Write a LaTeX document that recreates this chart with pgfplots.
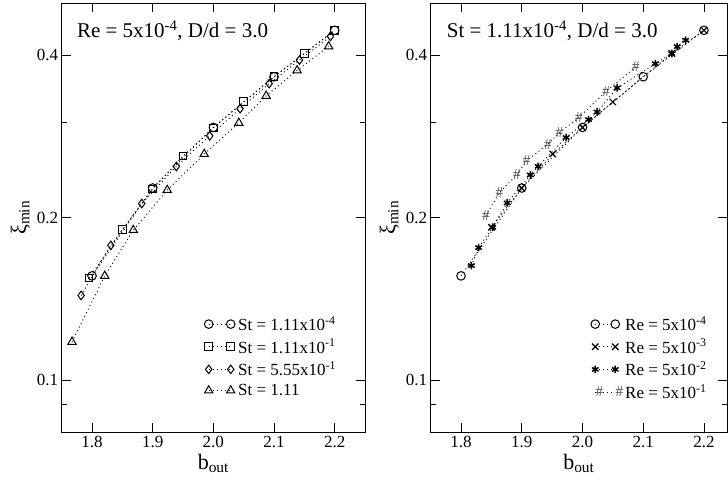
\documentclass[border=0pt]{standalone}
\usepackage{pgfplots}
\pgfplotsset{compat=1.18}
\usepackage{fontspec}
\setmainfont{Liberation Serif}
\tikzset{dl/.style={black, dash pattern=on 1pt off 3pt, line width=0.9pt, mark options={solid, line width=1pt}}}
\begin{document}
\begin{tikzpicture}[x=1pt,y=1pt]
\path[use as bounding box] (0,0) rectangle (728,-483);
% ---------- left panel ----------
\begin{axis}[at={(61.7pt,-3pt)}, anchor=north west, width=303.3pt, xmax=2.25,
    scale only axis,
    height=429.3pt,
    ymode=log,
    ymin=0.08, ymax=0.5,
    xmin=1.75,
    ytick={0.1,0.2,0.4},
    yticklabels={\mbox{0.1},\mbox{0.2},\mbox{0.4}},
    minor ytick={0.09,0.3},
    xtick={1.8,1.9,2.0,2.1,2.2},
    xticklabels={\mbox{1.8},\mbox{1.9},\mbox{2.0},\mbox{2.1},\mbox{2.2}},
    tick align=inside,
    major tick length=9pt,
    minor tick length=5pt,
    axis line style={line width=1pt},
    every tick/.style={line width=0.8pt, black},
    tick label style={font=\fontsize{17}{17}\selectfont},
    xlabel={b\textsubscript{out}},
    ylabel={ξ\textsubscript{min}},
    label style={font=\fontsize{22}{22}\selectfont},
    legend cell align=left,
    legend style={draw=none, fill=none, font=\fontsize{17}{17}\selectfont, anchor=north west, row sep=3pt, at={(0.46,0.28)}},
    legend image code/.code={\draw[#1,mark repeat=1,mark phase=1] plot coordinates {(0pt,0pt) (22pt,0pt)}; \path (27pt,0pt);},
    clip=false]
\addplot[dl, mark=o, mark size=4.3pt] coordinates {(1.8,0.156) (1.9,0.227) (2.0,0.294) (2.1,0.365) (2.2,0.445)};
\addlegendentry{St = 1.11x10\textsuperscript{-4}}
\addplot[dl, mark=square, mark size=3.8pt] coordinates {(1.795,0.1545) (1.85,0.190) (1.9,0.226) (1.95,0.260) (2.0,0.2935) (2.05,0.328) (2.1,0.365) (2.15,0.403) (2.2,0.445)};
\addlegendentry{St = 1.11x10\textsuperscript{-1}}
\addplot[dl, mark=diamond, mark size=4.3pt] coordinates {(1.782,0.1435) (1.831,0.1777) (1.882,0.2124) (1.939,0.2489) (1.994,0.2836) (2.044,0.3185) (2.092,0.3545) (2.142,0.392) (2.193,0.4336)};
\addlegendentry{St = 5.55x10\textsuperscript{-1}}
\addplot[dl, mark=triangle, mark size=4.8pt] coordinates {(1.767,0.1177) (1.821,0.156) (1.868,0.1897) (1.924,0.225) (1.985,0.2624) (2.042,0.2997) (2.087,0.3364) (2.138,0.375) (2.19,0.4155)};
\addlegendentry{St = 1.11}
\node[anchor=base west, font=\fontsize{21}{21}\selectfont, inner sep=0pt] at (rel axis cs:0.05,0.919) {Re = 5x10\textsuperscript{-4}, D/d = 3.0};
\end{axis}
% ---------- right panel ----------
\begin{axis}[at={(430.7pt,-3pt)}, anchor=north west, width=296.3pt, xmax=2.238,
    scale only axis,
    height=429.3pt,
    ymode=log,
    ymin=0.08, ymax=0.5,
    xmin=1.75,
    ytick={0.1,0.2,0.4},
    yticklabels={\mbox{0.1},\mbox{0.2},\mbox{0.4}},
    minor ytick={0.09,0.3},
    xtick={1.8,1.9,2.0,2.1,2.2},
    xticklabels={\mbox{1.8},\mbox{1.9},\mbox{2.0},\mbox{2.1},\mbox{2.2}},
    tick align=inside,
    major tick length=9pt,
    minor tick length=5pt,
    axis line style={line width=1pt},
    every tick/.style={line width=0.8pt, black},
    tick label style={font=\fontsize{17}{17}\selectfont},
    xlabel={b\textsubscript{out}},
    ylabel={ξ\textsubscript{min}},
    label style={font=\fontsize{22}{22}\selectfont},
    legend cell align=left,
    legend style={draw=none, fill=none, font=\fontsize{17}{17}\selectfont, anchor=north west, row sep=3pt, at={(0.53,0.28)}},
    legend image code/.code={\draw[#1,mark repeat=1,mark phase=1] plot coordinates {(0pt,0pt) (20pt,0pt)}; \path (25pt,0pt);},
    clip=false]
\addplot[dl, mark=o, mark size=4.3pt] coordinates {(1.8,0.156) (1.9,0.227) (2.0,0.294) (2.1,0.365) (2.2,0.445)};
\addlegendentry{Re = 5x10\textsuperscript{-4}}
\addplot[dl, mark=x, mark size=4.5pt, mark options={solid, line width=1.2pt}] coordinates {(1.85,0.192) (1.9,0.227) (1.951,0.2624) (2.0,0.294) (2.05,0.3277) (2.147,0.403) (2.2,0.445)};
\addlegendentry{Re = 5x10\textsuperscript{-3}}
\addplot[dl, mark=asterisk, mark size=3.8pt, mark options={solid, line width=1.5pt}] coordinates {(1.817,0.163) (1.829,0.176) (1.852,0.192) (1.876,0.213) (1.914,0.240) (1.927,0.249) (1.973,0.2816) (2.010,0.304) (2.024,0.314) (2.057,0.348) (2.120,0.386) (2.147,0.403) (2.156,0.415) (2.170,0.4266)};
\addlegendentry{Re = 5x10\textsuperscript{-2}}
\addplot[dl, mark=text, text mark={\#}, text mark as node=true, text mark style={font=\fontsize{15}{15}\selectfont, text=black!70, inner sep=0pt}] coordinates {(1.841,0.2017) (1.863,0.2228) (1.892,0.240) (1.908,0.255) (1.943,0.2737) (1.962,0.2875) (1.994,0.3067) (2.039,0.343) (2.088,0.381)};
\addlegendentry{Re = 5x10\textsuperscript{-1}}
\node[anchor=base west, font=\fontsize{21}{21}\selectfont, inner sep=0pt] at (rel axis cs:0.054,0.919) {St = 1.11x10\textsuperscript{-4}, D/d = 3.0};
\end{axis}
\end{tikzpicture}
\end{document}
